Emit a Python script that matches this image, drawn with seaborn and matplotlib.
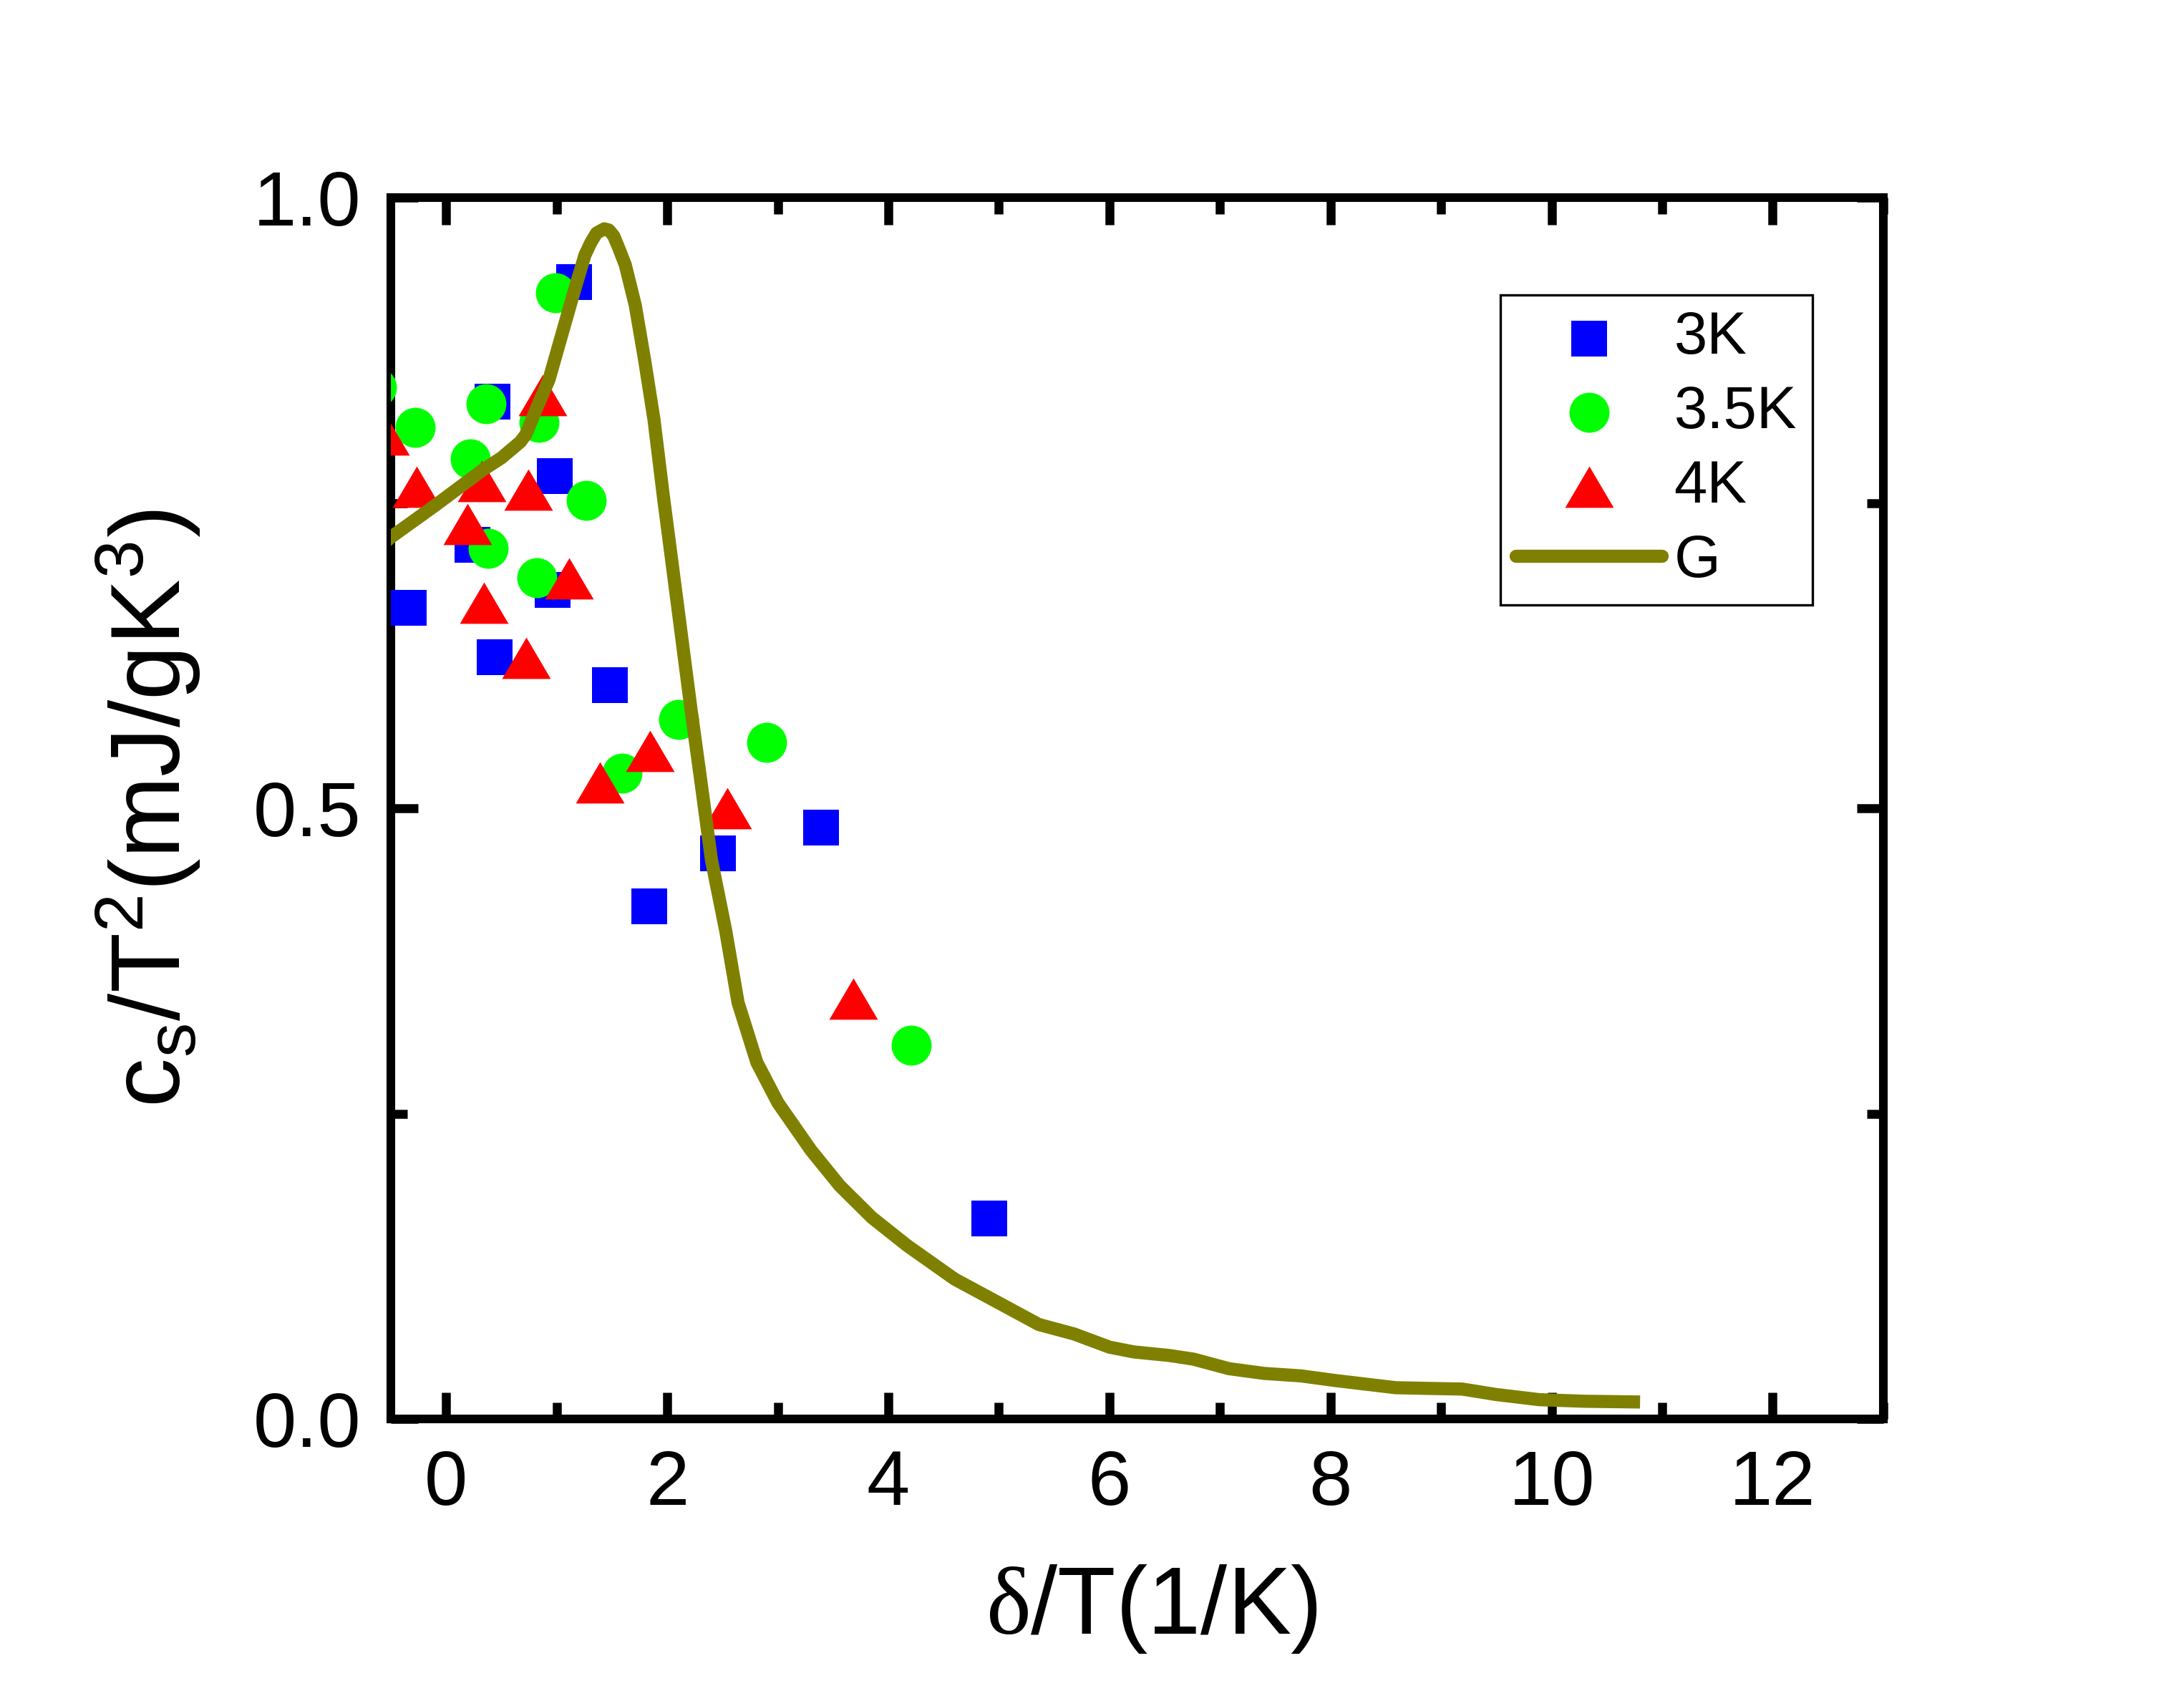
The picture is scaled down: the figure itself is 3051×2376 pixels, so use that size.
import numpy as np
import seaborn as sns
import matplotlib.pyplot as plt
from matplotlib.ticker import MultipleLocator, FormatStrFormatter

x_3k = [1.16, 0.42, 0.98, 0.24, -0.34, 0.96, 0.44, 1.48, 3.39, 2.46, 1.84, 4.91]
y_3k = [0.931, 0.833, 0.772, 0.716, 0.664, 0.679, 0.624, 0.601, 0.484, 0.463, 0.420, 0.164]

x_35k = [0.99, -0.63, -0.28, 0.36, 0.22, 0.84, 1.27, 0.38, 0.82, 2.90, 2.105, 1.59, 4.21]
y_35k = [0.922, 0.845, 0.812, 0.831, 0.786, 0.816, 0.752, 0.713, 0.689, 0.554, 0.573, 0.529, 0.306]

x_4k = [-0.555, -0.27, 0.32, 0.74, 0.87, 0.19, 0.34, 1.11, 0.72, 1.39, 1.845, 2.54, 3.685]
y_4k = [0.806, 0.763, 0.768, 0.761, 0.838, 0.733, 0.668, 0.688, 0.623, 0.521, 0.547, 0.500, 0.344]

# Kurve G
x_g = [-0.55, -0.5, -0.1, 0.33, 0.5, 0.67, 0.72, 0.82, 0.93, 1.04, 1.15, 1.255, 1.31, 1.36,
       1.43, 1.471, 1.515, 1.557, 1.62, 1.71, 1.795, 1.88, 1.965, 2.017, 2.123, 2.216, 2.313,
       2.399, 2.528, 2.64, 2.81, 3.00, 3.30, 3.56, 3.85, 4.17, 4.60, 5.0, 5.36, 5.68, 6.00,
       6.22, 6.54, 6.76, 7.08, 7.40, 7.73, 8.05, 8.59, 8.9, 9.19, 9.5, 9.89, 10.3, 10.8]
y_g = [0.718, 0.722, 0.748, 0.777, 0.787, 0.800, 0.806, 0.828, 0.851, 0.886, 0.921, 0.953,
       0.9635, 0.971, 0.9745, 0.9735, 0.9687, 0.9596, 0.945, 0.912, 0.867, 0.818, 0.755,
       0.719, 0.645, 0.580, 0.516, 0.458, 0.400, 0.341, 0.292, 0.259, 0.220, 0.191, 0.165,
       0.142, 0.1145, 0.095, 0.0774, 0.0696, 0.0588, 0.0549, 0.052, 0.049, 0.0412, 0.0373,
       0.0353, 0.0314, 0.0256, 0.025, 0.0245, 0.020, 0.0158, 0.0145, 0.0139]

sns.set_style("ticks")
plt.rcParams['font.family'] = ['Liberation Sans', 'DejaVu Sans']
plt.rcParams['mathtext.fontset'] = 'custom'
plt.rcParams['mathtext.rm'] = 'Liberation Sans'
plt.rcParams['mathtext.it'] = 'Liberation Sans:italic'
plt.rcParams['mathtext.sf'] = 'Liberation Serif'
for key in ['text.color', 'axes.labelcolor', 'xtick.color', 'ytick.color', 'axes.edgecolor']:
    plt.rcParams[key] = 'black'

fig = plt.figure(figsize=(10.17, 7.92), dpi=300)
ax = fig.add_axes([0.179, 0.1658, 0.6833, 0.718])

dreieck = [(-1, -0.85), (1, -0.85), (0, 0.85)]

sns.scatterplot(x=x_3k, y=y_3k, marker='s', color='#0000FF', s=144, linewidth=0,
                ax=ax, label='3K', zorder=3)
sns.scatterplot(x=x_35k, y=y_35k, marker='o', color='#00FF00', s=180, linewidth=0,
                ax=ax, label='3.5K', zorder=3)
sns.scatterplot(x=x_4k, y=y_4k, marker=dreieck, color='#FF0000', s=266, linewidth=0,
                ax=ax, label='4K', zorder=3)
sns.lineplot(x=x_g, y=y_g, color='#808000', linewidth=4.4, ax=ax, label='G',
             sort=False, zorder=4, solid_capstyle='butt', solid_joinstyle='round')

ax.set_xlim(-0.5, 13)
ax.set_ylim(0, 1.0)
ax.xaxis.set_major_locator(MultipleLocator(2))
ax.xaxis.set_minor_locator(MultipleLocator(1))
ax.yaxis.set_major_locator(MultipleLocator(0.5))
ax.yaxis.set_minor_locator(MultipleLocator(0.25))
ax.yaxis.set_major_formatter(FormatStrFormatter('%.1f'))

ax.tick_params(which='both', direction='in', top=True, right=True, width=3, color='black',
               labelcolor='black', labelsize=26, pad=10)
ax.tick_params(which='major', length=9)
ax.tick_params(which='minor', length=5.5)
for sp in ax.spines.values():
    sp.set_linewidth(2.9)
    sp.set_color('black')

ax.set_xlabel(r'$\mathsf{\delta}$/T(1/K)', fontsize=32, labelpad=11)
ax.xaxis.set_label_coords(0.51, -0.118)
ax.set_ylabel(r'c$_\mathrm{s}$/T$^\mathrm{2}$(mJ/gK$^\mathrm{3}$)', fontsize=33, labelpad=17)

leg = ax.legend(loc='upper left', bbox_to_anchor=(0.7434, 0.9205), borderaxespad=0,
                fontsize=20, frameon=True, fancybox=False, framealpha=1,
                edgecolor='black', borderpad=0.26, handlelength=2.45, handletextpad=0.2,
                labelspacing=0.31)
leg.get_frame().set_linewidth(0.8)
for ln in leg.get_lines():
    ln.set_solid_capstyle('round')
for t in leg.get_texts():
    t.set_color('black')

fig.savefig('out.png', dpi=300)
